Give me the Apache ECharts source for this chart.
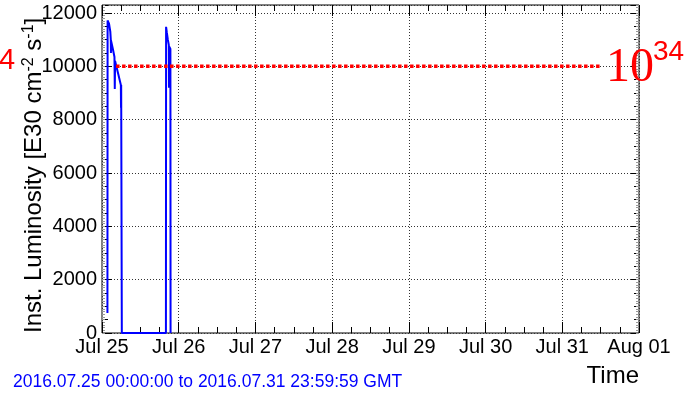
<!DOCTYPE html>
<html>
<head>
<meta charset="utf-8">
<script src="https://cdn.jsdelivr.net/npm/echarts@6/dist/echarts.min.js"></script>
<style>
  html, body { margin: 0; padding: 0; background: #ffffff; }
  #chart { width: 690px; height: 395px; }
</style>
</head>
<body>
<div id="chart"></div>
<script>
// Axis tick labels (one per day, hours since 2016-07-25 00:00 GMT)
const xTickLabels = ['Jul 25', 'Jul 26', 'Jul 27', 'Jul 28', 'Jul 29', 'Jul 30', 'Jul 31', 'Aug 01'];
const xRangeHours = [0, 168];
const yRange = [0, 12300];

// Instantaneous luminosity samples: time in hours since Jul 25 00:00 GMT, value in E30 cm^-2 s^-1
const lumiHours = [
  1.70, 1.75, 2.20, 2.60, 2.75, 2.80, 2.85, 3.40, 3.90, 4.00, 4.10, 4.60, 5.10, 5.60, 5.90, 5.95, 6.00, 6.15, 6.20,
  20.00, 20.05, 20.30, 20.60, 20.90, 20.95, 21.00, 21.40, 21.45
];
const lumiValues = [
  750, 11720, 11600, 11300, 11000, 10500, 10950, 10650, 10350, 9150, 10200, 9950, 9700, 9450, 9300, 8450, 9300, 9250, 0,
  0, 11480, 11250, 11000, 10800, 9200, 10750, 10650, 0
];

// Reference level (10^34 cm^-2 s^-1 = 10000 in E30 units)
const refHours = [4.4, 156];
const refValue = 10000;

const sans = 'Liberation Sans, Arial, Helvetica, sans-serif';
const serif = 'Liberation Serif, Times New Roman, serif';

const lumiData = lumiHours.map((h, i) => [h, lumiValues[i]]);
const refData = refHours.map(h => [h, refValue]);

const dotted = { color: '#333', width: 1, type: [1, 2] };

function xAxisDef(position, showLabels) {
  return {
    type: 'value', position: position, min: xRangeHours[0], max: xRangeHours[1], interval: 24,
    axisLine: { show: false, onZero: false },
    axisTick: { show: true, inside: true, length: 11, lineStyle: { color: '#000', width: 1 } },
    minorTick: { show: true, splitNumber: 4, length: 6, lineStyle: { color: '#000', width: 1 } },
    axisLabel: showLabels ? {
      show: true, margin: 4, fontSize: 20, fontFamily: sans, color: '#000',
      formatter: v => xTickLabels[Math.round(v / 24)] || ''
    } : { show: false },
    splitLine: { show: showLabels, lineStyle: dotted }
  };
}

function yAxisDef(position, interval, tickLen, color, opts) {
  return Object.assign({
    type: 'value', position: position, min: yRange[0], max: yRange[1], interval: interval,
    axisLine: { show: false, onZero: false },
    axisTick: { show: true, inside: true, length: tickLen, lineStyle: { color: color, width: 1 } },
    axisLabel: { show: false },
    splitLine: { show: false }
  }, opts || {});
}

const chart = echarts.init(document.getElementById('chart'), null, { renderer: 'canvas' });

chart.setOption({
  animation: false,
  backgroundColor: '#ffffff',
  grid: { left: 102, right: 51, top: 5, bottom: 62, show: true, borderColor: '#000', borderWidth: 1, backgroundColor: 'transparent' },
  xAxis: [xAxisDef('bottom', true), xAxisDef('top', false)],
  yAxis: [
    yAxisDef('left', 2000, 10, '#000', {
      axisLabel: {
        show: true, margin: 5, fontSize: 20, fontFamily: sans, color: '#000', showMaxLabel: false,
        formatter: v => String(Math.round(v))
      },
      splitLine: { show: true, lineStyle: dotted }
    }),
    yAxisDef('left', 500, 6, '#000'),
    yAxisDef('left', 100, 3, '#999'),
    yAxisDef('right', 2000, 8, '#000'),
    yAxisDef('right', 500, 5, '#000'),
    yAxisDef('right', 100, 3, '#999')
  ],
  series: [
    {
      type: 'line', xAxisIndex: 0, yAxisIndex: 0, data: lumiData,
      showSymbol: false, symbol: 'none',
      lineStyle: { color: '#0000ff', width: 2 }, z: 3
    },
    {
      type: 'line', xAxisIndex: 0, yAxisIndex: 0, data: refData,
      showSymbol: false, symbol: 'none',
      lineStyle: { color: '#ff0000', width: 3.5, type: [3.5, 2.5], cap: 'butt' }, z: 4
    }
  ],
  graphic: [
    {
      type: 'text', x: 34, y: 333, rotation: Math.PI / 2,
      style: {
        text: '{a|Inst. Luminosity [E30 cm}{s|-2}{a| s}{s|-1}{a|]}',
        align: 'left', verticalAlign: 'middle',
        rich: {
          a: { fontSize: 24, fontFamily: sans, fill: '#000', lineHeight: 26 },
          s: { fontSize: 16, fontFamily: sans, fill: '#000', verticalAlign: 'top', lineHeight: 16 }
        }
      }
    },
    {
      type: 'text', x: 639, y: 376,
      style: { text: 'Time', fontSize: 24, fontFamily: sans, fill: '#000', align: 'right', verticalAlign: 'middle' }
    },
    {
      type: 'text', x: 13, y: 382,
      style: { text: '2016.07.25 00:00:00 to 2016.07.31 23:59:59 GMT', fontSize: 17.5, fontFamily: sans, fill: '#0000ff', align: 'left', verticalAlign: 'middle' }
    },
    {
      type: 'text', x: 606, y: 68, z: 10,
      style: { text: '10', fontSize: 48, fontFamily: serif, fill: '#ff0000', align: 'left', verticalAlign: 'middle' }
    },
    {
      type: 'text', x: 653, y: 52, z: 10,
      style: { text: '34', fontSize: 28, fontFamily: sans, fill: '#ff0000', align: 'left', verticalAlign: 'middle' }
    },
    {
      type: 'text', x: -1, y: 61, z: 10,
      style: { text: '4', fontSize: 29, fontFamily: sans, fill: '#ff0000', align: 'left', verticalAlign: 'middle' }
    }
  ]
});
</script>
</body>
</html>
